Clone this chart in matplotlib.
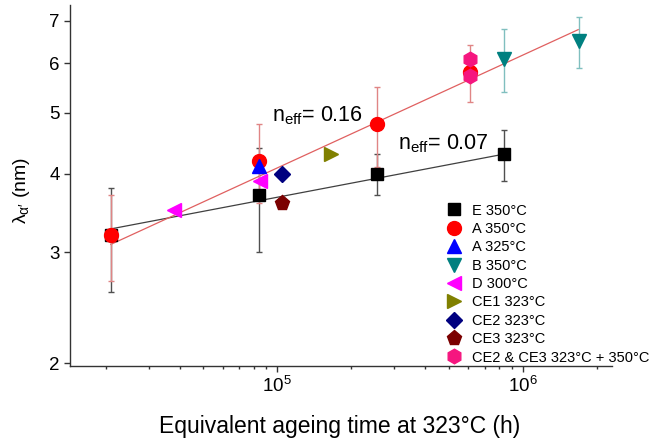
import matplotlib
matplotlib.use("Agg")
import matplotlib.pyplot as plt
from matplotlib.ticker import FixedLocator, FixedFormatter, LogLocator, NullLocator, LogFormatterSciNotation

plt.rcParams["font.family"] = ["Liberation Sans", "DejaVu Sans"]
plt.rcParams["mathtext.fontset"] = "custom"
plt.rcParams["mathtext.rm"] = "Liberation Sans"
plt.rcParams["mathtext.it"] = "Liberation Sans:italic"
plt.rcParams["mathtext.sf"] = "Liberation Sans"

# equivalent ageing time at 323 C (h) and alpha' wavelength (nm)
e350_t = [2.1e4, 8.4e4, 2.55e5, 8.4e5]
e350_lam = [3.2, 3.7, 4.0, 4.3]
e350_err = [0.6, 0.7, 0.3, 0.4]

a350_t = [2.1e4, 8.4e4, 2.55e5, 6.1e5]
a350_lam = [3.2, 4.2, 4.8, 5.8]
a350_err = [0.5, 0.6, 0.7, 0.6]

a325_t = [8.4e4]
a325_lam = [4.12]

b350_t = [8.4e5, 1.69e6]
b350_lam = [6.1, 6.5]
b350_err = [0.7, 0.6]

d300_t = [3.8e4, 8.5e4]
d300_lam = [3.5, 3.9]

ce1_t = [1.66e5]
ce1_lam = [4.3]

ce2_t = [1.04e5]
ce2_lam = [4.0]

ce3_t = [1.04e5]
ce3_lam = [3.6]

ce23_t = [6.1e5, 6.1e5]
ce23_lam = [6.1, 5.72]

# power-law fits (end points of the straight lines on log-log axes)
fit_fast_t = [2.1e4, 1.68e6]
fit_fast_lam = [3.09, 6.78]
fit_slow_t = [2.1e4, 8.4e5]
fit_slow_lam = [3.27, 4.30]

y_ticks = [2, 3, 4, 5, 6, 7]

fig = plt.figure(figsize=(6.52, 4.43), dpi=100)
ax = fig.add_axes([70 / 652, 1 - 365.7 / 443, 541.7 / 652, 360.7 / 443])

ax.plot(fit_slow_t, fit_slow_lam, color="#404040", lw=0.9, zorder=1)
ax.plot(fit_fast_t, fit_fast_lam, color="#E06060", lw=0.9, zorder=1)

eb = dict(fmt="none", capsize=2.5, elinewidth=1.0, capthick=1.0, zorder=2)
ax.errorbar(e350_t, e350_lam, yerr=e350_err, ecolor="#505050", **eb)
ax.errorbar(a350_t, a350_lam, yerr=a350_err, ecolor="#E08585", **eb)
ax.errorbar(b350_t, b350_lam, yerr=b350_err, ecolor="#80BFBF", **eb)

series = [
    (e350_t, e350_lam, "s", 9, "black", "E 350°C"),
    (a350_t, a350_lam, "o", 10, "#FF0000", "A 350°C"),
    (a325_t, a325_lam, "^", 10.5, "#0000FF", "A 325°C"),
    (b350_t, b350_lam, "v", 10.5, "#008080", "B 350°C"),
    (d300_t, d300_lam, "<", 10.5, "#FF00FF", "D 300°C"),
    (ce1_t, ce1_lam, ">", 10.5, "#808000", "CE1 323°C"),
    (ce2_t, ce2_lam, "D", 8.5, "#000080", "CE2 323°C"),
    (ce3_t, ce3_lam, "p", 11, "#7B0000", "CE3 323°C"),
    (ce23_t, ce23_lam, "h", 10.5, "#F5167F", "CE2 & CE3 323°C + 350°C"),
]
handles = []
for t, lam, mk, ms, col, lab in series:
    h, = ax.plot(t, lam, ls="none", marker=mk, ms=ms, color=col,
                 mec=col, label=lab, zorder=3)
    handles.append(h)

ax.set_xscale("log")
ax.set_yscale("log")
ax.set_xlim(1.431e4, 2.30e6)
ax.set_ylim(1.982, 7.42)

ax.xaxis.set_major_locator(LogLocator(base=10, numticks=10))
ax.xaxis.set_major_formatter(LogFormatterSciNotation())
ax.xaxis.set_minor_locator(LogLocator(base=10, subs=range(2, 10), numticks=20))
ax.yaxis.set_major_locator(FixedLocator(y_ticks))
ax.yaxis.set_major_formatter(FixedFormatter([str(v) for v in y_ticks]))
ax.yaxis.set_minor_locator(NullLocator())

for side in ("top", "right"):
    ax.spines[side].set_visible(False)
for side in ("left", "bottom"):
    ax.spines[side].set_color("#333333")
    ax.spines[side].set_linewidth(1.0)
ax.tick_params(which="major", direction="out", length=4.3, width=1.0,
               color="#333333", labelsize=13.5, pad=3)
ax.tick_params(which="minor", direction="out", length=2.4, width=1.0,
               color="#333333")

ax.text(9.5e4, 4.84, r"n$_{\mathrm{eff}}$= 0.16", fontsize=15.5, va="baseline")
ax.text(3.1e5, 4.37, r"n$_{\mathrm{eff}}$= 0.07", fontsize=15.5, va="baseline")

fig.text(340 / 652, 1 - 427 / 443, "Equivalent ageing time at 323°C (h)",
         fontsize=16.5, ha="center", va="center")
fig.text(21 / 652, 1 - 190 / 443, r"$\mathrm{λ}_{\mathrm{α}\prime}$ (nm)",
         fontsize=14, rotation=90, ha="center", va="center")

fig.legend(handles=handles, loc="upper left",
           bbox_to_anchor=(442.7 / 652, 1 - 203.6 / 443),
           bbox_transform=fig.transFigure, frameon=False, fontsize=10.5,
           handlelength=1.5, handletextpad=0.5, borderpad=0, borderaxespad=0,
           labelspacing=0.3, numpoints=1)

fig.savefig("out.png", dpi=100)
